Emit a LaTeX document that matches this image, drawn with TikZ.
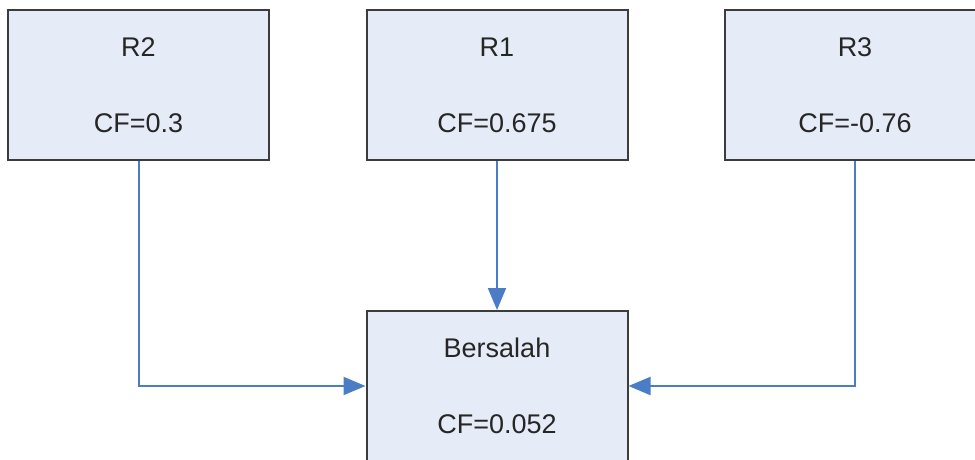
\documentclass[tikz,border=0pt]{standalone}
\usepackage{fontspec}
\setmainfont{Liberation Sans}
\usetikzlibrary{arrows.meta}
\definecolor{boxfill}{HTML}{E6ECF7}
\definecolor{boxline}{HTML}{3C3C3C}
\definecolor{flow}{HTML}{4A7DC6}
\begin{document}
\begin{tikzpicture}[x=1pt,y=1pt,
  rulebox/.style={draw=boxline,line width=2pt,fill=boxfill,
    minimum width=261pt,minimum height=150pt,inner sep=0pt,
    align=center,text=black!85,font=\fontsize{27}{76}\selectfont},
  flowline/.style={draw=flow,line width=2pt,
    -{Triangle[length=22pt,width=18pt]}}]
  \useasboundingbox (0,0) rectangle (975,-460);
  \node[rulebox] (r2) at (138.5,-85) {R2\\CF=0.3};
  \node[rulebox] (r1) at (497,-85) {R1\\CF=0.675};
  \node[rulebox] (r3) at (855,-85) {R3\\CF=-0.76};
  \node[rulebox] (b) at (497,-386) {Bersalah\\CF=0.052};
  \draw[flowline] (r2.south) |- (b.west);
  \draw[flowline] (r1.south) -- (b.north);
  \draw[flowline] (r3.south) |- (b.east);
\end{tikzpicture}
\end{document}
